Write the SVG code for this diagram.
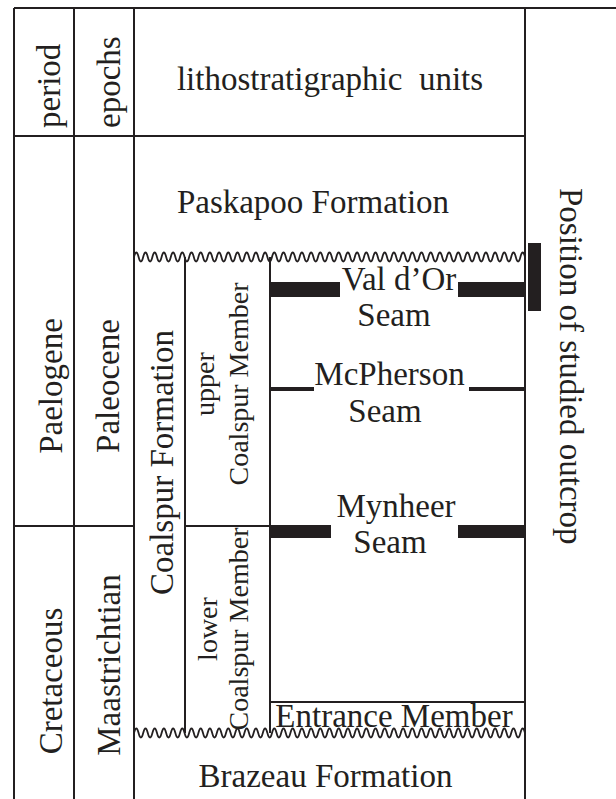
<svg xmlns="http://www.w3.org/2000/svg" width="616" height="799" viewBox="0 0 616 799">
<style>
.ln{stroke:#231f20;stroke-width:2;fill:none}
.wv{stroke:#231f20;stroke-width:1.8;fill:none}
.bar{fill:#231f20}
text{font-family:"Liberation Serif","Times New Roman",serif;fill:#231f20;font-size:33px}
.m{text-anchor:middle}
.s{font-size:28px}
</style>
<defs>
<clipPath id="cw"><rect x="134" y="0" width="391" height="799"/></clipPath>
</defs>
<rect width="616" height="799" fill="#fff"/>
<g id="connectors">
<path class="ln" d="M14,8H616M14,8V799M74,8V799M134,8V799M525,8V799M14,136H525M14,526H134M185,526H270M185,257V733M270,257V733M270,702H525"/>
<g clip-path="url(#cw)">
<path class="wv" d="M134,257q2.3,-9 4.6,0t4.6,0t4.6,0t4.6,0t4.6,0t4.6,0t4.6,0t4.6,0t4.6,0t4.6,0t4.6,0t4.6,0t4.6,0t4.6,0t4.6,0t4.6,0t4.6,0t4.6,0t4.6,0t4.6,0t4.6,0t4.6,0t4.6,0t4.6,0t4.6,0t4.6,0t4.6,0t4.6,0t4.6,0t4.6,0t4.6,0t4.6,0t4.6,0t4.6,0t4.6,0t4.6,0t4.6,0t4.6,0t4.6,0t4.6,0t4.6,0t4.6,0t4.6,0t4.6,0t4.6,0t4.6,0t4.6,0t4.6,0t4.6,0t4.6,0t4.6,0t4.6,0t4.6,0t4.6,0t4.6,0t4.6,0t4.6,0t4.6,0t4.6,0t4.6,0t4.6,0t4.6,0t4.6,0t4.6,0t4.6,0t4.6,0t4.6,0t4.6,0t4.6,0t4.6,0t4.6,0t4.6,0t4.6,0t4.6,0t4.6,0t4.6,0t4.6,0t4.6,0t4.6,0t4.6,0t4.6,0t4.6,0t4.6,0t4.6,0t4.6,0t4.6,0t4.6,0t4.6,0"/>
<path class="wv" d="M134,733q2.3,-9 4.6,0t4.6,0t4.6,0t4.6,0t4.6,0t4.6,0t4.6,0t4.6,0t4.6,0t4.6,0t4.6,0t4.6,0t4.6,0t4.6,0t4.6,0t4.6,0t4.6,0t4.6,0t4.6,0t4.6,0t4.6,0t4.6,0t4.6,0t4.6,0t4.6,0t4.6,0t4.6,0t4.6,0t4.6,0t4.6,0t4.6,0t4.6,0t4.6,0t4.6,0t4.6,0t4.6,0t4.6,0t4.6,0t4.6,0t4.6,0t4.6,0t4.6,0t4.6,0t4.6,0t4.6,0t4.6,0t4.6,0t4.6,0t4.6,0t4.6,0t4.6,0t4.6,0t4.6,0t4.6,0t4.6,0t4.6,0t4.6,0t4.6,0t4.6,0t4.6,0t4.6,0t4.6,0t4.6,0t4.6,0t4.6,0t4.6,0t4.6,0t4.6,0t4.6,0t4.6,0t4.6,0t4.6,0t4.6,0t4.6,0t4.6,0t4.6,0t4.6,0t4.6,0t4.6,0t4.6,0t4.6,0t4.6,0t4.6,0t4.6,0t4.6,0t4.6,0t4.6,0"/>
</g>
</g>
<g id="seams">
<rect class="bar" x="270" y="282" width="70" height="15"/>
<rect class="bar" x="458" y="282" width="67" height="15"/>
<rect class="bar" x="270" y="387" width="44" height="4"/>
<rect class="bar" x="469" y="387" width="56" height="4"/>
<rect class="bar" x="270" y="525" width="61" height="13"/>
<rect class="bar" x="458" y="525" width="67" height="13"/>
<rect class="bar" x="528" y="243" width="13" height="68"/>
</g>
<g id="header">
<text transform="translate(60,128) rotate(-90)">period</text>
<text transform="translate(120,128) rotate(-90)">epochs</text>
<text class="m" x="330" y="90" xml:space="preserve">lithostratigraphic  units</text>
</g>
<g id="periods">
<text class="m" transform="translate(62,386) rotate(-90)">Paelogene</text>
<text class="m" transform="translate(62,681) rotate(-90)">Cretaceous</text>
</g>
<g id="epochs">
<text class="m" transform="translate(119,386) rotate(-90)">Paleocene</text>
<text class="m" transform="translate(120,665) rotate(-90)">Maastrichtian</text>
</g>
<g id="units">
<text class="m" x="313" y="213">Paskapoo Formation</text>
<text class="m" transform="translate(173,462.5) rotate(-90)">Coalspur Formation</text>
<text class="m s" transform="translate(214,384) rotate(-90)">upper</text>
<text class="m s" transform="translate(248,384) rotate(-90)">Coalspur Member</text>
<text class="m s" transform="translate(217,629) rotate(-90)">lower</text>
<text class="m s" transform="translate(248,629) rotate(-90)">Coalspur Member</text>
<text class="m" x="394" y="727" font-size="32">Entrance Member</text>
<text class="m" x="325.5" y="787">Brazeau Formation</text>
</g>
<g id="seam-labels">
<text class="m" x="399" y="290">Val d’Or</text>
<text class="m" x="394" y="326">Seam</text>
<text class="m" x="389.5" y="385">McPherson</text>
<text class="m" x="385" y="422">Seam</text>
<text class="m" x="396" y="517">Mynheer</text>
<text class="m" x="390" y="553">Seam</text>
</g>
<g id="outcrop">
<text transform="translate(560,188) rotate(90)">Position of studied outcrop</text>
</g>
</svg>
